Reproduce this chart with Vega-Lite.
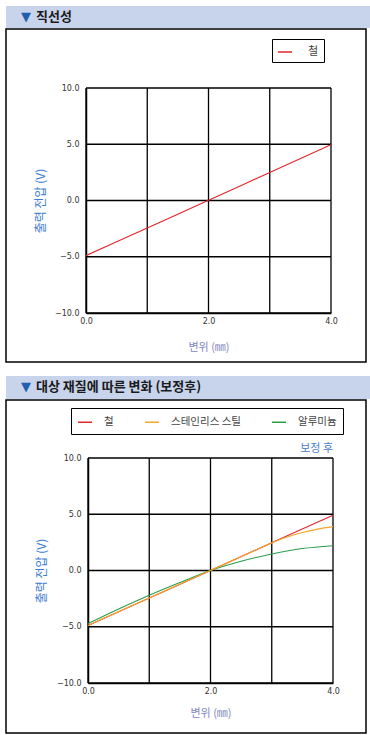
{
  "$schema": "https://vega.github.io/schema/vega-lite/v6.json",
  "padding": {"left": 5, "top": 6, "right": 0, "bottom": 0},
  "background": "white",
  "spacing": 13,
  "config": {"view": {"stroke": null}, "font": "Noto Sans CJK KR"},
  "resolve": {"scale": {"color": "independent"}, "legend": {"color": "independent"}},
  "datasets": {
    "gx": [{"v": 0, "a": -10, "b": 10}, {"v": 1, "a": -10, "b": 10}, {"v": 2, "a": -10, "b": 10}, {"v": 3, "a": -10, "b": 10}, {"v": 4, "a": -10, "b": 10}],
    "gy": [{"v": -10, "a": 0, "b": 4}, {"v": -5, "a": 0, "b": 4}, {"v": 0, "a": 0, "b": 4}, {"v": 5, "a": 0, "b": 4}, {"v": 10, "a": 0, "b": 4}],
    "p1": [
      {"x": 0, "y": -4.9, "m": "철"},
      {"x": 1, "y": -2.44, "m": "철"},
      {"x": 2, "y": 0.02, "m": "철"},
      {"x": 3, "y": 2.49, "m": "철"},
      {"x": 4, "y": 4.95, "m": "철"}
    ],
    "p2": [
      {"x": 0, "y": -4.88, "m": "철"},
      {"x": 1, "y": -2.44, "m": "철"},
      {"x": 2, "y": 0, "m": "철"},
      {"x": 3, "y": 2.46, "m": "철"},
      {"x": 4, "y": 4.92, "m": "철"},
      {"x": 0, "y": -4.72, "m": "알루미늄"},
      {"x": 0.5, "y": -3.42, "m": "알루미늄"},
      {"x": 1, "y": -2.2, "m": "알루미늄"},
      {"x": 1.5, "y": -1.07, "m": "알루미늄"},
      {"x": 2, "y": 0, "m": "알루미늄"},
      {"x": 2.5, "y": 0.82, "m": "알루미늄"},
      {"x": 3, "y": 1.47, "m": "알루미늄"},
      {"x": 3.5, "y": 1.95, "m": "알루미늄"},
      {"x": 4, "y": 2.2, "m": "알루미늄"},
      {"x": 0, "y": -4.88, "m": "스테인리스 스틸"},
      {"x": 0.5, "y": -3.66, "m": "스테인리스 스틸"},
      {"x": 1, "y": -2.44, "m": "스테인리스 스틸"},
      {"x": 1.5, "y": -1.22, "m": "스테인리스 스틸"},
      {"x": 2, "y": 0, "m": "스테인리스 스틸"},
      {"x": 2.5, "y": 1.23, "m": "스테인리스 스틸"},
      {"x": 3, "y": 2.45, "m": "스테인리스 스틸"},
      {"x": 3.25, "y": 2.98, "m": "스테인리스 스틸"},
      {"x": 3.5, "y": 3.38, "m": "스테인리스 스틸"},
      {"x": 3.75, "y": 3.68, "m": "스테인리스 스틸"},
      {"x": 4, "y": 3.9, "m": "스테인리스 스틸"}
    ],
    "note": [{"x": 4, "y": 10.8, "t": "보정 후"}]
  },
  "vconcat": [
    {
      "spacing": 0,
      "resolve": {"scale": {"color": "independent"}, "legend": {"color": "independent"}},
      "vconcat": [
        {
          "spacing": 0,
          "hconcat": [
            {
              "width": 25, "height": 22,
              "view": {"fill": "#c8d4ec", "stroke": null},
              "data": {"values": [{"a": 1}]},
              "mark": {"type": "text", "text": ""},
              "encoding": {},
              "title": {"text": "▼", "font": "DejaVu Sans", "fontSize": 13, "color": "#1f5fb0", "anchor": "end", "frame": "group", "offset": -18}
            },
            {
              "width": 340, "height": 22,
              "view": {"fill": "#c8d4ec", "stroke": null},
              "data": {"values": [{"a": 1}]},
              "mark": {"type": "text", "text": ""},
              "encoding": {},
              "title": {"text": "직선성", "font": "Noto Sans CJK KR", "fontSize": 13, "fontWeight": "bold", "color": "#1a1a1a", "anchor": "start", "frame": "group", "offset": -18, "dx": 5}
            }
          ]
        },
        {
          "width": 360, "height": 333,
          "view": {"stroke": "#000", "strokeWidth": 1.5, "fill": "white"},
          "layer": [
            {
              "data": {"name": "gx"},
              "mark": {"type": "rule", "color": "#000", "strokeWidth": 1.3},
              "encoding": {
                "x": {"field": "v", "type": "quantitative", "scale": {"domain": [0, 4], "range": [80, 325], "nice": false, "zero": false}},
                "y": {"field": "a", "type": "quantitative", "scale": {"domain": [-10, 10], "range": [284, 59], "nice": false, "zero": false}},
                "y2": {"field": "b"}
              }
            },
            {
              "data": {"name": "gy"},
              "mark": {"type": "rule", "color": "#000", "strokeWidth": 1.3},
              "encoding": {
                "y": {"field": "v", "type": "quantitative", "scale": {"domain": [-10, 10], "range": [284, 59], "nice": false, "zero": false}},
                "x": {"field": "a", "type": "quantitative", "scale": {"domain": [0, 4], "range": [80, 325], "nice": false, "zero": false}},
                "x2": {"field": "b"}
              }
            },
            {
              "data": {"name": "p1"},
              "mark": {"type": "line", "strokeWidth": 1.1, "interpolate": "monotone"},
              "encoding": {
                "x": {"field": "x", "type": "quantitative",
                  "scale": {"domain": [0, 4], "range": [80, 325], "nice": false, "zero": false},
                  "axis": {"orient": "bottom", "offset": -49, "values": [0, 2, 4], "format": ".1f", "grid": false, "ticks": false,
                    "domainColor": "#000", "domainWidth": 1.5, "labelFont": "DejaVu Sans", "labelFontSize": 8, "labelColor": "#333",
                    "labelPadding": 4, "labelFlush": false, "labelOverlap": false, "labelBound": false,
                    "title": "변위 (㎜)", "titleFont": "Noto Sans CJK KR", "titleFontSize": 11, "titleFontWeight": "normal", "titleColor": "#7f88c2", "titlePadding": 16}},
                "y": {"field": "y", "type": "quantitative",
                  "scale": {"domain": [-10, 10], "range": [284, 59], "nice": false, "zero": false},
                  "axis": {"orient": "left", "offset": -80, "values": [-10, -5, 0, 5, 10], "format": ".1f", "grid": false, "ticks": false,
                    "domainColor": "#000", "domainWidth": 1.5, "labelFont": "DejaVu Sans", "labelFontSize": 8, "labelColor": "#333",
                    "labelPadding": 7, "labelOverlap": false, "labelBound": false,
                    "title": "출력 전압 (V)", "titleFont": "Noto Sans CJK KR", "titleFontSize": 12, "titleFontWeight": "normal", "titleColor": "#3b7bd0", "titlePadding": 7}},
                "color": {"field": "m", "type": "nominal",
                  "scale": {"domain": ["철"], "range": ["#e3242b"]},
                  "legend": {"orient": "none", "legendX": 266, "legendY": 10, "title": null, "symbolType": "stroke", "symbolSize": 196, "symbolStrokeWidth": 1.5,
                    "labelFont": "Noto Sans CJK KR", "labelFontSize": 11, "labelColor": "#444", "labelOffset": 15, "padding": 5, "strokeColor": "#000",
                    "labelExpr": "datum.label + '\u2002\u2009'"}}
              }
            }
          ]
        }
      ]
    },
    {
      "spacing": 0,
      "resolve": {"scale": {"color": "independent"}, "legend": {"color": "independent"}},
      "vconcat": [
        {
          "spacing": 0,
          "hconcat": [
            {
              "width": 25, "height": 23,
              "view": {"fill": "#c8d4ec", "stroke": null},
              "data": {"values": [{"a": 1}]},
              "mark": {"type": "text", "text": ""},
              "encoding": {},
              "title": {"text": "▼", "font": "DejaVu Sans", "fontSize": 13, "color": "#1f5fb0", "anchor": "end", "frame": "group", "offset": -18}
            },
            {
              "width": 340, "height": 23,
              "view": {"fill": "#c8d4ec", "stroke": null},
              "data": {"values": [{"a": 1}]},
              "mark": {"type": "text", "text": ""},
              "encoding": {},
              "title": {"text": "대상 재질에 따른 변화 (보정후)", "font": "Noto Sans CJK KR", "fontSize": 13, "fontWeight": "bold", "color": "#1a1a1a", "anchor": "start", "frame": "group", "offset": -18, "dx": 5}
            }
          ]
        },
        {
          "width": 360, "height": 333,
          "view": {"stroke": "#000", "strokeWidth": 1.5, "fill": "white"},
          "layer": [
            {
              "data": {"name": "gx"},
              "mark": {"type": "rule", "color": "#000", "strokeWidth": 1.3},
              "encoding": {
                "x": {"field": "v", "type": "quantitative", "scale": {"domain": [0, 4], "range": [82, 327], "nice": false, "zero": false}},
                "y": {"field": "a", "type": "quantitative", "scale": {"domain": [-10, 10], "range": [283, 58], "nice": false, "zero": false}},
                "y2": {"field": "b"}
              }
            },
            {
              "data": {"name": "gy"},
              "mark": {"type": "rule", "color": "#000", "strokeWidth": 1.3},
              "encoding": {
                "y": {"field": "v", "type": "quantitative", "scale": {"domain": [-10, 10], "range": [283, 58], "nice": false, "zero": false}},
                "x": {"field": "a", "type": "quantitative", "scale": {"domain": [0, 4], "range": [82, 327], "nice": false, "zero": false}},
                "x2": {"field": "b"}
              }
            },
            {
              "data": {"name": "p2"},
              "mark": {"type": "line", "strokeWidth": 1.1, "interpolate": "monotone"},
              "encoding": {
                "x": {"field": "x", "type": "quantitative",
                  "scale": {"domain": [0, 4], "range": [82, 327], "nice": false, "zero": false},
                  "axis": {"orient": "bottom", "offset": -50, "values": [0, 2, 4], "format": ".1f", "grid": false, "ticks": false,
                    "domainColor": "#000", "domainWidth": 1.5, "labelFont": "DejaVu Sans", "labelFontSize": 8, "labelColor": "#333",
                    "labelPadding": 4, "labelFlush": false, "labelOverlap": false, "labelBound": false,
                    "title": "변위 (㎜)", "titleFont": "Noto Sans CJK KR", "titleFontSize": 11, "titleFontWeight": "normal", "titleColor": "#7f88c2", "titlePadding": 12}},
                "y": {"field": "y", "type": "quantitative",
                  "scale": {"domain": [-10, 10], "range": [283, 58], "nice": false, "zero": false},
                  "axis": {"orient": "left", "offset": -82, "values": [-10, -5, 0, 5, 10], "format": ".1f", "grid": false, "ticks": false,
                    "domainColor": "#000", "domainWidth": 1.5, "labelFont": "DejaVu Sans", "labelFontSize": 8, "labelColor": "#333",
                    "labelPadding": 7, "labelOverlap": false, "labelBound": false,
                    "title": "출력 전압 (V)", "titleFont": "Noto Sans CJK KR", "titleFontSize": 12, "titleFontWeight": "normal", "titleColor": "#3b7bd0", "titlePadding": 8}},
                "color": {"field": "m", "type": "nominal",
                  "scale": {"domain": ["철", "스테인리스 스틸", "알루미늄"], "range": ["#e3242b", "#f4a62a", "#2a9d4a"]},
                  "legend": {"orient": "none", "legendX": 65, "legendY": 8, "title": null, "direction": "horizontal", "columns": 3, "columnPadding": 28,
                    "symbolType": "stroke", "symbolSize": 196, "symbolStrokeWidth": 1.5,
                    "labelFont": "Noto Sans CJK KR", "labelFontSize": 10.5, "labelColor": "#444", "labelOffset": 11, "padding": 6, "strokeColor": "#000"}}
              }
            },
            {
              "data": {"name": "note"},
              "mark": {"type": "text", "align": "right", "baseline": "middle", "font": "Noto Sans CJK KR", "fontSize": 11, "color": "#4a80c8"},
              "encoding": {
                "x": {"field": "x", "type": "quantitative", "scale": {"domain": [0, 4], "range": [82, 327], "nice": false, "zero": false}},
                "y": {"field": "y", "type": "quantitative", "scale": {"domain": [-10, 10], "range": [283, 58], "nice": false, "zero": false}},
                "text": {"field": "t"}
              }
            }
          ]
        }
      ]
    }
  ]
}
